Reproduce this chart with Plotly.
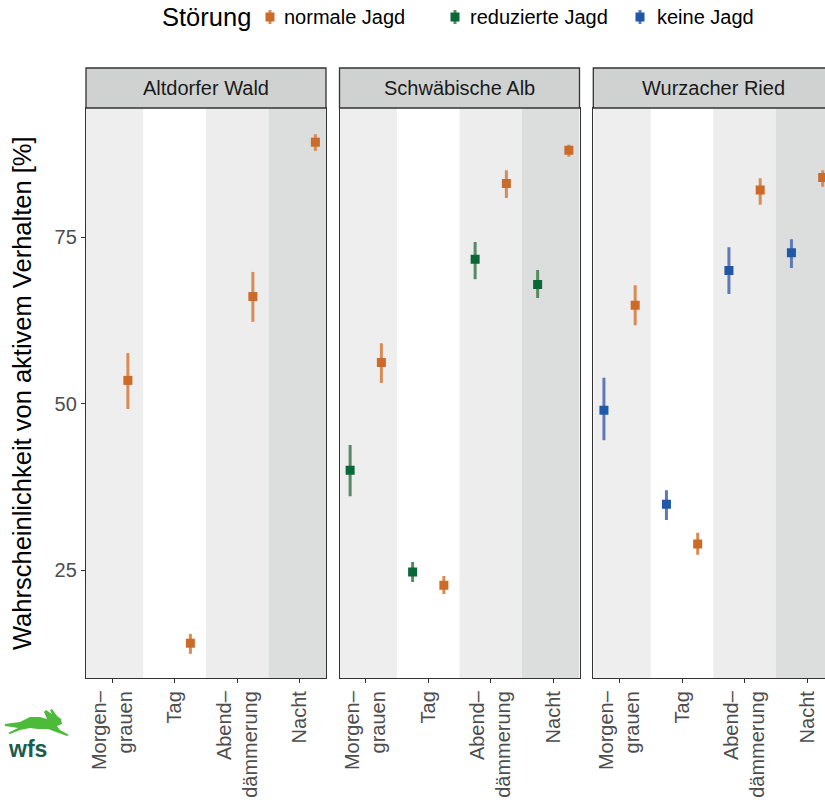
import plotly.graph_objects as go

# ---------------- data ----------------
categories = ["Morgen–<br>grauen", "Tag", "Abend–<br>dämmerung", "Nacht"]
regions = ["Altdorfer Wald", "Schwäbische Alb", "Wurzacher Ried"]
disturbances = ["normale Jagd", "reduzierte Jagd", "keine Jagd"]

# Altdorfer Wald
aw_normal_mean = [53.5, 14.0, 66.1, 89.3]
aw_normal_lo = [49.2, 12.4, 62.3, 88.0]
aw_normal_hi = [57.6, 15.4, 69.8, 90.5]

# Schwäbische Alb
sa_reduced_mean = [40.0, 24.7, 71.7, 67.9]
sa_reduced_lo = [36.1, 23.2, 68.7, 65.9]
sa_reduced_hi = [43.8, 26.2, 74.3, 70.1]
sa_normal_mean = [56.2, 22.7, 83.1, 88.1]
sa_normal_lo = [53.1, 21.4, 80.9, 87.1]
sa_normal_hi = [59.1, 24.1, 85.1, 88.9]

# Wurzacher Ried
wr_none_mean = [49.0, 34.9, 70.0, 72.7]
wr_none_lo = [44.5, 32.5, 66.5, 70.4]
wr_none_hi = [53.9, 37.0, 73.5, 74.7]
wr_normal_mean = [64.8, 28.9, 82.1, 84.0]
wr_normal_lo = [61.8, 27.3, 79.9, 82.6]
wr_normal_hi = [67.8, 30.6, 83.9, 85.1]

y_ticks = [25, 50, 75]

series = {
    "Altdorfer Wald": [("normale Jagd", aw_normal_mean, aw_normal_lo, aw_normal_hi)],
    "Schwäbische Alb": [("reduzierte Jagd", sa_reduced_mean, sa_reduced_lo, sa_reduced_hi),
                        ("normale Jagd", sa_normal_mean, sa_normal_lo, sa_normal_hi)],
    "Wurzacher Ried": [("keine Jagd", wr_none_mean, wr_none_lo, wr_none_hi),
                       ("normale Jagd", wr_normal_mean, wr_normal_lo, wr_normal_hi)],
}

# ---------------- style ----------------
FONT = "Liberation Sans, Arial, Helvetica, sans-serif"
marker_colors = {"normale Jagd": "#CC6A28", "reduzierte Jagd": "#086838", "keine Jagd": "#1F58A8"}
bar_colors = {"normale Jagd": "#D98B55", "reduzierte Jagd": "#578A62", "keine Jagd": "#5F78B8"}
dodge = {"normale Jagd": 0.25, "reduzierte Jagd": -0.25, "keine Jagd": -0.25}
band_colors = ["#EEEEEE", "#FFFFFF", "#EDEDED", "#DCDDDD"]

W, H = 825, 810
panel_left = [86, 339.5, 593.3]
panel_w = 240
top_px, bottom_px = 108, 678
strip_top_px = 68
x_range = [0.58, 4.42]
px_per_unit = panel_w / (x_range[1] - x_range[0])
y_range = [8.77, 94.44]

# manual legend layout (pixel positions)
legend_y_px = 17
legend_title_x_px = 160
legend_key_x_px = [270, 455, 640]
legend_text_x_px = [282, 468, 655]


def fx(p):
    return p / W


def fy(p):
    return 1 - p / H


fig = go.Figure()
shapes = []
annotations = []

for k, region in enumerate(regions):
    sfx = "" if k == 0 else str(k + 1)
    left = panel_left[k]
    right = min(left + panel_w, W)
    xr = [x_range[0], x_range[0] + (right - left) / px_per_unit]
    fig.layout["xaxis" + sfx] = dict(
        domain=[fx(left), fx(right)], range=xr, anchor="y" + sfx,
        tickmode="array", tickvals=[i + 1 for i in range(len(categories))],
        ticktext=categories, tickangle=-90, ticks="outside", ticklen=4,
        tickcolor="#333333", tickwidth=1.1,
        tickfont=dict(family=FONT, size=20, color="#4D4D4D"),
        showgrid=False, zeroline=False, showline=True, linecolor="#333333",
        linewidth=1.3, mirror=True, automargin=False, fixedrange=True,
    )
    fig.layout["yaxis" + sfx] = dict(
        domain=[fy(bottom_px), fy(top_px)], range=y_range, anchor="x" + sfx,
        tickmode="array", tickvals=y_ticks,
        ticks="outside" if k == 0 else "", ticklen=4, tickcolor="#333333", tickwidth=1.1,
        showticklabels=(k == 0),
        tickfont=dict(family=FONT, size=20, color="#4D4D4D"),
        showgrid=False, zeroline=False, showline=True, linecolor="#333333",
        linewidth=1.3, mirror=(k < 2), automargin=False, fixedrange=True,
    )
    # background bands per time-of-day category
    for i in range(len(categories)):
        x0 = max(i + 0.5, xr[0])
        x1 = min(i + 1.5, xr[1])
        shapes.append(dict(type="rect", xref="x" + sfx, yref="y" + sfx + " domain",
                           x0=x0, x1=x1, y0=0, y1=1, fillcolor=band_colors[i],
                           line=dict(width=0), layer="below"))
    # strip
    shapes.append(dict(type="rect", xref="paper", yref="paper",
                       x0=fx(left), x1=fx(right + (10 if k == 2 else 0)),
                       y0=fy(top_px), y1=fy(strip_top_px),
                       fillcolor="#D0D2D2", line=dict(color="#333333", width=1.3)))
    annotations.append(dict(text=region, xref="paper", yref="paper",
                            x=fx(left + panel_w / 2), y=fy((top_px + strip_top_px) / 2),
                            showarrow=False, xanchor="center", yanchor="middle",
                            font=dict(family=FONT, size=20, color="#1A1A1A")))
    for dist, mean, lo, hi in series[region]:
        fig.add_trace(go.Scatter(
            x=[i + 1 + dodge[dist] for i in range(len(categories))],
            y=mean, mode="markers", name=dist, legendgroup=dist, showlegend=False,
            marker=dict(symbol="square", size=9, color=marker_colors[dist]),
            error_y=dict(type="data", symmetric=False,
                         array=[h - m for h, m in zip(hi, mean)],
                         arrayminus=[m - l for m, l in zip(mean, lo)],
                         thickness=3, width=0, color=bar_colors[dist]),
            xaxis="x" + sfx, yaxis="y" + sfx,
        ))

# manual legend
annotations.append(dict(text="Störung", xref="paper", yref="paper",
                        x=fx(legend_title_x_px), y=fy(legend_y_px), showarrow=False,
                        xanchor="left", yanchor="middle",
                        font=dict(family=FONT, size=25.5, color="#000000")))
for j, dist in enumerate(disturbances):
    kx = legend_key_x_px[j]
    shapes.append(dict(type="line", xref="paper", yref="paper",
                       x0=fx(kx), x1=fx(kx), y0=fy(legend_y_px - 7), y1=fy(legend_y_px + 7),
                       line=dict(color=bar_colors[dist], width=3)))
    shapes.append(dict(type="rect", xref="paper", yref="paper",
                       x0=fx(kx - 4.5), x1=fx(kx + 4.5),
                       y0=fy(legend_y_px + 4.5), y1=fy(legend_y_px - 4.5),
                       fillcolor=marker_colors[dist], line=dict(width=0)))
    annotations.append(dict(text=dist, xref="paper", yref="paper",
                            x=fx(legend_text_x_px[j]), y=fy(legend_y_px), showarrow=False,
                            xanchor="left", yanchor="middle",
                            font=dict(family=FONT, size=20, color="#000000")))

# y axis title
annotations.append(dict(text="Wahrscheinlichkeit von aktivem Verhalten [%]",
                        xref="paper", yref="paper", x=fx(22), y=fy((top_px + bottom_px) / 2),
                        textangle=-90, showarrow=False, xanchor="center", yanchor="middle",
                        font=dict(family=FONT, size=25.5, color="#000000")))

# logo (wfs + hare)
annotations.append(dict(text="<b>wfs</b>", xref="paper", yref="paper", x=fx(27), y=fy(749),
                        showarrow=False, xanchor="center", yanchor="middle",
                        font=dict(family=FONT, size=23, color="#1B5C4C")))
hare_px = [(5, 724), (20, 722), (30, 717), (40, 717), (47, 719), (44, 712), (46, 710),
           (52, 714), (50, 710), (52, 709), (57, 716), (61, 719), (62, 724), (57, 726),
           (60, 730), (69, 735), (67, 736), (56, 732), (48, 729), (38, 729), (30, 728),
           (20, 730), (10, 734), (8, 733), (18, 728), (12, 727), (5, 726)]
path = "M " + " L ".join(f"{fx(a):.5f},{fy(b):.5f}" for a, b in hare_px) + " Z"
shapes.append(dict(type="path", xref="paper", yref="paper", path=path,
                   fillcolor="#4CBB3A", line=dict(width=0)))

fig.update_layout(
    width=W, height=H, margin=dict(l=0, r=0, t=0, b=0),
    paper_bgcolor="white", plot_bgcolor="white",
    shapes=shapes, annotations=annotations,
    showlegend=False,
    font=dict(family=FONT),
)

fig.write_html("out.html")
